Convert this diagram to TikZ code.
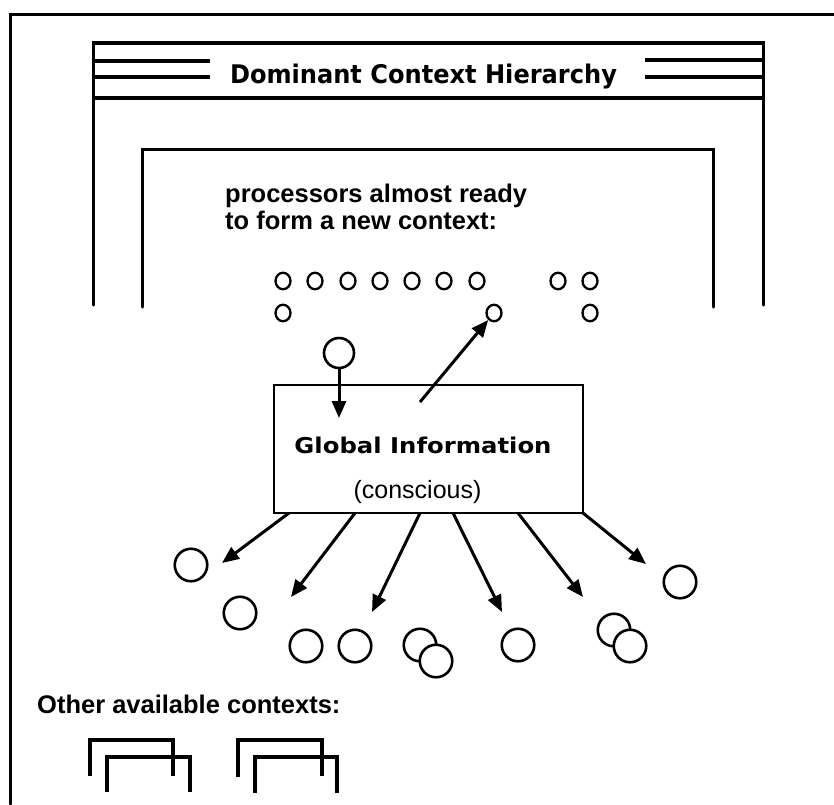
\documentclass[tikz,border=0pt]{standalone}
\usepackage{fontspec}
\setmainfont{Liberation Sans}
\newfontfamily\chicago{DejaVu Sans}
\usetikzlibrary{arrows.meta,shapes.geometric,calc}
\begin{document}
\begin{tikzpicture}[x=1pt,y=-1pt,
  frame/.style={line width=3pt, line cap=round},
  band/.style={line width=4pt},
  proc/.style={ellipse, draw, line width=2.3pt, minimum width=15pt, minimum height=16.5pt, inner sep=0pt},
  ctx/.style={circle, draw, line width=2.6pt, fill=white, minimum size=32.5pt, inner sep=0pt},
  arr/.style={line width=3pt, -{Triangle[length=17pt,width=14pt]}},
  brk/.style={line width=3.4pt},
  hv/.style={inner sep=0pt, font=\bfseries\fontsize{25.5}{27}\selectfont}
]
\useasboundingbox (0,0) rectangle (834,804);
% outer frame
\draw[frame] (10,804) -- (10,14) -- (834,14);
% dominant context box
\draw[frame] (93,305) -- (93,43);
\draw[frame] (763,43) -- (763,305);
\draw[band] (91.5,43) -- (764.5,43);
\draw[band] (91.5,98) -- (764.5,98);
\draw[band] (93,61) -- (210,61);
\draw[band] (93,77) -- (210,77);
\draw[band] (645,60) -- (763,60);
\draw[band] (645,77) -- (763,77);
\node[anchor=base, inner sep=0pt] (title) at (423.5,83)
  {\resizebox{387pt}{19.5pt}{\chicago\bfseries Dominant Context Hierarchy}};
% inner box
\draw[frame] (142,307) -- (142,149) -- (713,149) -- (713,307);
\node[hv, anchor=north west, align=left] (ready) at (225,184)
  {processors almost ready\\to form a new context:};
% processors
\foreach \i/\x in {1/283,2/315,3/348,4/380,5/412,6/444,7/477,8/558,9/590}
  \node[proc] (r\i) at (\x,281) {};
\node[proc] (s1) at (283,313) {};
\node[proc] (s2) at (494,313) {};
\node[proc] (s3) at (590,313) {};
% global information
\node[draw, line width=2.6pt, minimum width=309pt, minimum height=128pt, inner sep=0pt] (gi) at (428.5,449) {};
\node[anchor=base, inner sep=0pt] (gtext) at (423,453)
  {\resizebox{257pt}{16.5pt}{\chicago\bfseries Global Information}};
\node[anchor=base, inner sep=0pt, font=\fontsize{25}{27}\selectfont] (cons) at (417.5,498) {(conscious)};
% incoming / outgoing
\node[circle, draw, line width=2.6pt, minimum size=30pt, inner sep=0pt] (p0) at (339,353) {};
\coordinate (t0) at (339,418);
\draw[arr] (p0.south) -- (t0);
\coordinate (u0) at (420,402);
\draw[arr] (u0) -- (s2);
% broadcast arrows
\foreach \n/\sx/\tx/\ty in {1/289/222/563, 2/355/291/597, 3/420/372/612, 4/453/502/612, 5/518/583/597, 6/583/646/564}{
  \coordinate (a\n) at (\sx,513);
  \coordinate (b\n) at (\tx,\ty);
  \draw[arr] (a\n) -- (b\n);
}
% receiving circles
\node[ctx] (c1) at (191,565) {};
\node[ctx] (c2) at (240,613) {};
\node[ctx] (c3) at (306,646) {};
\node[ctx] (c4) at (355,646) {};
\node[ctx] (c5) at (420,645) {};
\node[ctx] (c5b) at (436,661) {};
\node[ctx] (c6) at (518,645) {};
\node[ctx] (c7) at (614,630) {};
\node[ctx] (c7b) at (630,646) {};
\node[ctx] (c8) at (680,582) {};
% other contexts
\node[hv, anchor=base west] (other) at (37,713) {Other available contexts:};
\draw[brk] (90,776) -- (90,740) -- (173,740) -- (173,776);
\draw[brk] (107,792) -- (107,757) -- (190,757) -- (190,792);
\draw[brk] (238,777) -- (238,740) -- (322,740) -- (322,776);
\draw[brk] (255,793) -- (255,757) -- (337,757) -- (337,793);
\end{tikzpicture}
\end{document}
